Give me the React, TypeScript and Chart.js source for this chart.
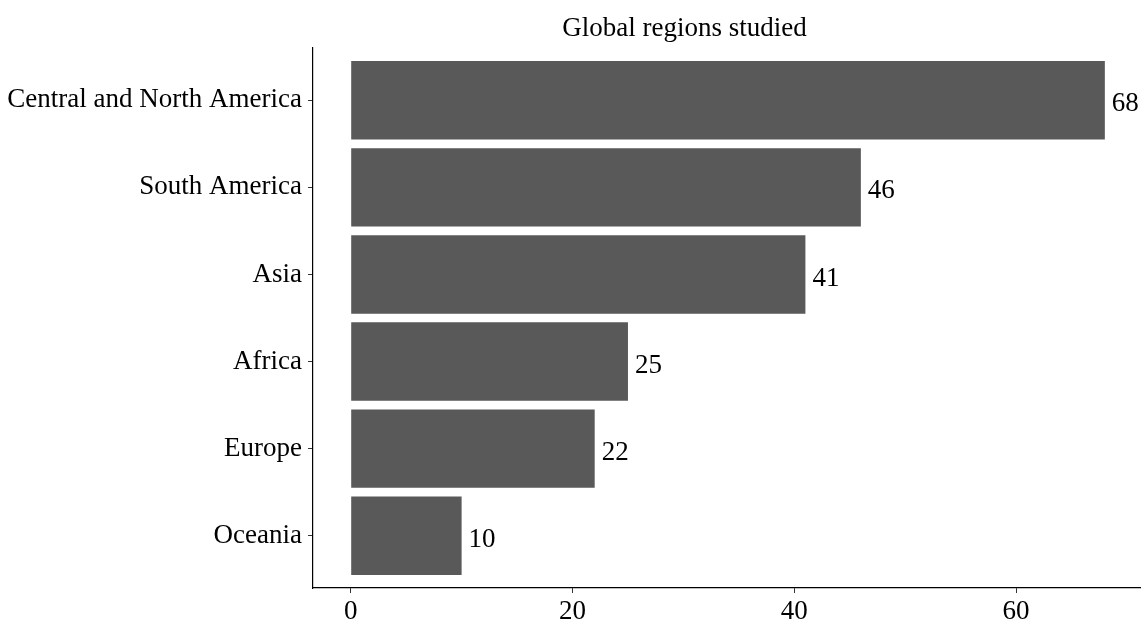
import React, { useEffect, useRef } from "react";
import { Chart, registerables } from "chart.js";

Chart.register(...registerables);

const categories = [
  "Central and North America",
  "South America",
  "Asia",
  "Africa",
  "Europe",
  "Oceania",
];
const counts = [68, 46, 41, 25, 22, 10];
const xTickValues = [0, 20, 40, 60];
const titleText = "Global regions studied";

const FONT = "'Liberation Serif', 'Times New Roman', serif";

export default function App() {
  const ref = useRef<HTMLCanvasElement | null>(null);

  useEffect(() => {
    if (!ref.current) return;

    const labelPlugin = {
      id: "valueLabels",
      afterDatasetsDraw(chart: any) {
        const ctx = chart.ctx;
        const meta = chart.getDatasetMeta(0);
        ctx.save();
        ctx.font = `27px ${FONT}`;
        ctx.fillStyle = "#000";
        ctx.textAlign = "left";
        ctx.textBaseline = "middle";
        meta.data.forEach((el: any, i: number) => {
          ctx.fillText(String(counts[i]), el.x + 7, el.y + 4);
        });
        ctx.restore();
      },
    };

    const titlePlugin = {
      id: "customTitle",
      afterDraw(chart: any) {
        const ctx = chart.ctx;
        ctx.save();
        ctx.font = `27px ${FONT}`;
        ctx.fillStyle = "#000";
        ctx.textAlign = "center";
        ctx.textBaseline = "alphabetic";
        ctx.fillText(titleText, chart.width * 0.6, 36);
        ctx.restore();
      },
    };

    const chart = new Chart(ref.current, {
      type: "bar",
      data: {
        datasets: [
          {
            data: categories.map((_, i) => ({ x: counts[i], y: i })),
            backgroundColor: "#595959",
            borderWidth: 0,
            barPercentage: 0.9,
            categoryPercentage: 1,
          },
        ],
      },
      options: {
        indexAxis: "y",
        animation: false,
        responsive: true,
        maintainAspectRatio: false,
        layout: { padding: { top: 48, left: 0, right: 0, bottom: 0 } },
        plugins: {
          legend: { display: false },
          title: { display: false },
          tooltip: { enabled: false },
        },
        scales: {
          x: {
            type: "linear",
            min: -3.4,
            max: 71.26,
            offset: false,
            afterBuildTicks: (scale: any) => {
              scale.ticks = xTickValues.map((v) => ({ value: v }));
            },
            afterFit: (scale: any) => {
              scale.height = 35;
            },
            grid: {
              display: true,
              offset: false,
              drawOnChartArea: false,
              drawTicks: true,
              tickLength: 5,
              tickColor: "#333",
            },
            border: { display: true, color: "#000", width: 1.2 },
            ticks: {
              color: "#000",
              padding: 3,
              font: { family: FONT, size: 27 },
              maxRotation: 0,
            },
          },
          y: {
            type: "linear",
            min: -0.6,
            max: 5.6,
            reverse: true,
            offset: false,
            afterBuildTicks: (scale: any) => {
              scale.ticks = categories.map((_, i) => ({ value: i }));
            },
            afterFit: (scale: any) => {
              scale.width = 313;
            },
            grid: {
              display: true,
              offset: false,
              drawOnChartArea: false,
              drawTicks: true,
              tickLength: 5,
              tickColor: "#333",
            },
            border: { display: true, color: "#000", width: 1.2 },
            ticks: {
              color: "#000",
              padding: 6,
              font: { family: FONT, size: 27 },
              callback: (v: any) => categories[Number(v)] ?? "",
            },
          },
        },
      },
      plugins: [labelPlugin, titlePlugin],
    });

    return () => chart.destroy();
  }, []);

  return (
    <div
      style={{
        position: "absolute",
        left: 0,
        top: 0,
        width: 1141,
        height: 623,
        background: "#fff",
      }}
    >
      <canvas ref={ref} />
    </div>
  );
}
